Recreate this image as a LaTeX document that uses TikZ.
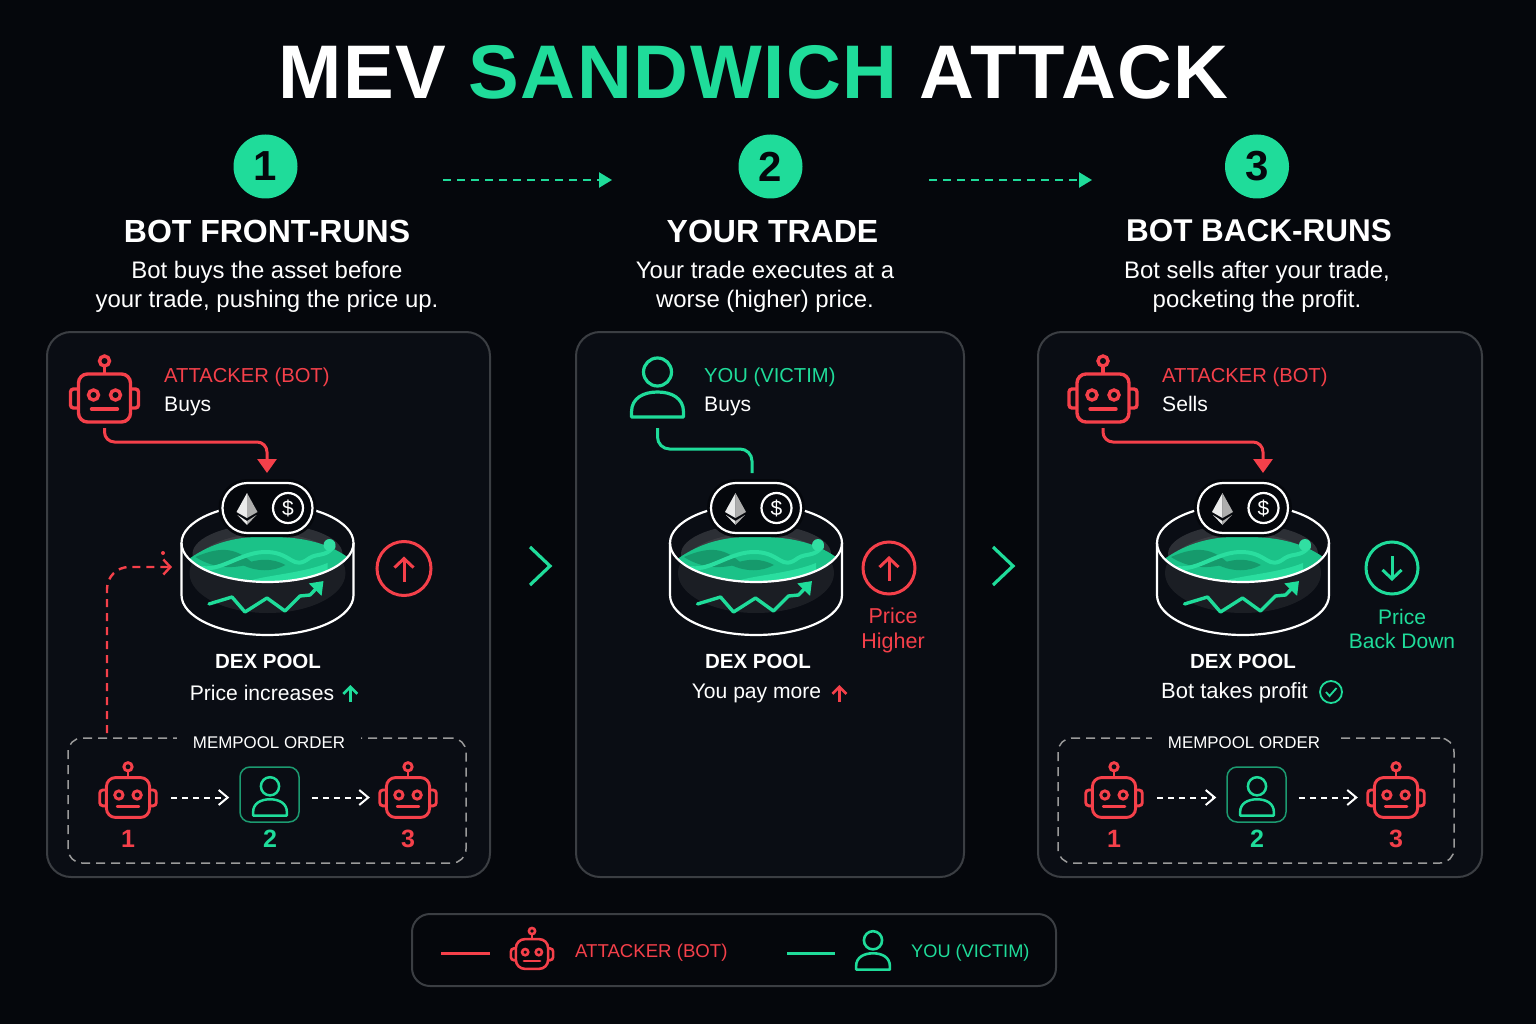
\documentclass[tikz,border=0pt]{standalone}
\usepackage{fontspec}
\setmainfont{Liberation Sans}
\usetikzlibrary{arrows.meta}
\definecolor{bgdark}{HTML}{05070C}
\definecolor{paneldark}{HTML}{0A0D14}
\definecolor{panelline}{HTML}{3B3E43}
\definecolor{botred}{HTML}{F5404A}
\definecolor{youteal}{HTML}{1FDC9A}
\definecolor{boxteal}{HTML}{1C9A70}
\definecolor{memline}{HTML}{9A9A9A}
\newcommand{\fsz}[1]{\fontsize{#1}{#1}\selectfont}
\tikzset{
  panelbox/.style={draw=panelline,fill=paneldark,line width=2pt,rounded corners=24pt},
  membox/.style={draw=memline,dash pattern=on 9pt off 6pt,line width=1.5pt,rounded corners=14pt,minimum width=398pt,minimum height=125pt},
  memlabel/.style={fill=paneldark,text=white,font=\fsz{16.9},inner xsep=16pt,inner ysep=2pt},
  youbox/.style={draw=boxteal,line width=1.5pt,rounded corners=10pt,minimum width=59pt,minimum height=55pt},
  numcircle/.style={circle,fill=youteal,text=bgdark,font=\fsz{42}\bfseries,minimum size=64pt,inner sep=0pt},
  headtext/.style={text=white,font=\fsz{32}\bfseries,inner sep=0pt},
  subtext/.style={text=white,font=\fsz{23.9},align=center,inner sep=0pt},
  poolhead/.style={text=white,font=\fsz{20.5}\bfseries,inner sep=0pt},
  pooltext/.style={text=white,font=\fsz{21.1},inner sep=0pt},
  redtext/.style={text=botred,font=\fsz{20.2},inner sep=0pt},
  youtext/.style={text=youteal,font=\fsz{20.2},inner sep=0pt},
  sidetext/.style={font=\fsz{21.5},align=center,inner sep=0pt},
  numred/.style={text=botred,font=\fsz{25}\bfseries,inner sep=0pt},
  numyou/.style={text=youteal,font=\fsz{25}\bfseries,inner sep=0pt},
  stepflow/.style={draw=youteal,line width=2.4pt,dash pattern=on 8pt off 6pt,-{Triangle[width=15pt,length=13pt]}},
  botpath/.style={draw=botred,line width=3pt,rounded corners=10pt,-{Triangle[width=19pt,length=14pt]}},
  youpath/.style={draw=youteal,line width=3pt,rounded corners=12pt},
  mempath/.style={draw=white,line width=2pt,dash pattern=on 6pt off 5pt,-{Straight Barb[length=9pt,width=15pt,line width=2pt]}},
  chevron/.style={draw=youteal,line width=3.2pt},
  ringred/.style={circle,draw=botred,line width=3pt,minimum size=54pt,inner sep=0pt},
  ringyou/.style={circle,draw=youteal,line width=3pt,minimum size=52pt,inner sep=0pt},
  tickarrow/.style={line width=3pt,-{Straight Barb[length=9pt,width=19pt,line width=3pt]}},
  smallarrow/.style={line width=2.6pt,-{Straight Barb[length=7pt,width=14pt,line width=2.6pt]}},
  boticon/.pic={
    \draw[rounded corners=9pt] (-26,-24) rectangle (26,24);
    \draw[rounded corners=3pt] (-26,-9) -- (-34,-9) -- (-34,10) -- (-26,10);
    \draw[rounded corners=3pt] (26,-9) -- (34,-9) -- (34,10) -- (26,10);
    \draw (0,-24) -- (0,-32);
    \draw (0,-37) circle (5);
    \draw (-11,-3) circle (5);
    \draw (11,-3) circle (5);
    \draw[line cap=round] (-13,11) -- (13,11);
    \coordinate (-south) at (0,30);
    \coordinate (-out) at (52,0);
    \coordinate (-in) at (-46,0);
  },
  youicon/.pic={
    \draw (0,-18) circle (14);
    \draw[line join=round] (-26,27) -- (-26,22) .. controls (-26,8) and (-14,2) .. (0,2)
      .. controls (14,2) and (26,8) .. (26,22) -- (26,27) -- cycle;
    \coordinate (-south) at (0,38);
  },
  poolicon/.pic={
    % dark body under the water
    \fill[fill=white,fill opacity=.07] (0,30) ellipse (78 and 40);
    % back rim and water
    \begin{scope}
      \clip (0,0) ellipse (85 and 38.5);
      \fill[fill=white,fill opacity=.14] (0,11) ellipse (75 and 30);
      \fill[fill=youteal!88!black] (-80,17) .. controls (-50,-5) and (-20,-7) .. (5,-6)
        .. controls (35,-6) and (60,0) .. (80,14) -- (80,45) -- (-80,45) -- cycle;
      \fill[fill=youteal!70!black] (-72,14) .. controls (-45,2) and (-30,6) .. (-15,20)
        .. controls (-35,27) and (-55,25) .. cycle;
      \fill[fill=youteal!70!black] (-25,22) .. controls (-10,15) and (5,15) .. (18,22)
        .. controls (5,29) and (-10,29) .. cycle;
      \fill[fill=youteal!95!white] (-30,42) .. controls (-10,32) and (30,32) .. (60,20)
        -- (60,45) -- (-30,45) -- cycle;
      \draw[draw=youteal!95!white,line width=4pt,line cap=round]
        (-65,25) .. controls (-45,28) and (-25,8) .. (0,9)
        .. controls (25,10) and (25,28) .. (42,15) .. controls (50,10) and (58,14) .. (66,4);
      \fill[fill=youteal!92!white] (62,2) circle (6);
    \end{scope}
    % cylinder outline
    \draw[draw=white,line width=2.2pt] (0,0) ellipse (86 and 39);
    \draw[draw=white,line width=2.2pt] (-86,0) -- (-86,52) arc (180:0:86 and 40) -- (86,0);
    % rising chart
    \draw[draw=youteal,line width=3.4pt,line join=round,line cap=round,-{Triangle[width=17pt,length=12pt]}]
      (-58.5,61) -- (-35.5,54) -- (-22.5,69) -- (-.5,55) -- (17.5,68) -- (32.5,53) -- (42.5,52) -- (56,38);
    % token pill
    \node[draw=bgdark,fill=bgdark,line width=8pt,rounded corners=25pt,minimum width=90pt,minimum height=50pt] at (0,-35) {};
    \node[draw=white,fill=bgdark,line width=2.2pt,rounded corners=25pt,minimum width=90pt,minimum height=50pt] (-pill) at (0,-35) {};
    \fill[fill=white!92!black] (-20.5,-50) -- (-31,-31) -- (-20.5,-25) -- cycle;
    \fill[fill=white!68!black] (-20.5,-50) -- (-10,-31) -- (-20.5,-25) -- cycle;
    \fill[fill=white!92!black] (-30,-28) -- (-20.5,-22) -- (-20.5,-18) -- cycle;
    \fill[fill=white!68!black] (-11,-28) -- (-20.5,-22) -- (-20.5,-18) -- cycle;
    \node[circle,draw=white,line width=2.2pt,minimum size=30pt,inner sep=0pt,text=white,font=\fsz{21}] (-coin) at (20.5,-35) {\$};
    \coordinate (-west) at (-95.5,24);
  }
}
\begin{document}
\begin{tikzpicture}[x=1pt,y=-1pt]
\fill[bgdark] (0,0) rectangle (1536,1024);
% Drawing title and step headers
\node[inner sep=0pt,text=white,font=\fsz{76}\bfseries\addfontfeatures{LetterSpace=2}] (title) at (753.5,72)
  {MEV \textcolor{youteal}{SANDWICH} ATTACK};
\node[numcircle] (numA) at (265.5,166.5) {1};
\node[numcircle] (numB) at (770.5,166.5) {2};
\node[numcircle] (numC) at (1257,166.5) {3};
\coordinate (flowAin) at (443,180);
\coordinate (flowAout) at (612,180);
\coordinate (flowBin) at (929,180);
\coordinate (flowBout) at (1092,180);
\draw[stepflow] (flowAin) -- (flowAout);
\draw[stepflow] (flowBin) -- (flowBout);
\node[headtext] (headA) at (267,231) {BOT FRONT-RUNS};
\node[headtext] (headB) at (772.5,231) {YOUR TRADE};
\node[headtext,font=\fsz{31.5}\bfseries] (headC) at (1259,231) {BOT BACK-RUNS};
\node[subtext] (subA) at (267,287) {Bot buys the asset before\\[5pt]your trade, pushing the price up.};
\node[subtext] (subB) at (765,287) {Your trade executes at a\\[5pt]worse (higher) price.};
\node[subtext] (subC) at (1257,287) {Bot sells after your trade,\\[5pt]pocketing the profit.};
% Done with headers; drawing panels
\node[panelbox,minimum width=443pt,minimum height=545pt] (panelA) at (268.5,604.5) {};
\node[panelbox,minimum width=388pt,minimum height=545pt] (panelB) at (770,604.5) {};
\node[panelbox,minimum width=444pt,minimum height=545pt] (panelC) at (1260,604.5) {};
% chevrons between panels
\coordinate (chevA) at (530,547);
\coordinate (chevB) at (993,547);
\draw[chevron] (chevA) -- ++(20,19) -- ++(-20,19);
\draw[chevron] (chevB) -- ++(20,19) -- ++(-20,19);
% Panel 1: attacker buys
\pic[color=botred,line width=3.4pt] (botA) at (104.5,398) {boticon};
\node[redtext,anchor=base west] (roleA) at (164,382) {ATTACKER (BOT)};
\node[pooltext,anchor=base west] (actA) at (164,411) {Buys};
\pic (poolA) at (267.5,543) {poolicon};
\coordinate (tipA) at (267,473);
\coordinate (railA) at (0,442);
\draw[botpath] (botA-south) |- (tipA |- railA) -- (tipA);
\node[ringred] (ringA) at (404,568.5) {};
\draw[botred,tickarrow] ([yshift=-13pt]ringA.center) -- ([yshift=12pt]ringA.center);
\node[poolhead] (dexA) at (268,661) {DEX POOL};
\node[pooltext] (priceA) at (262,693) {Price increases};
\draw[youteal,smallarrow] ([xshift=16pt,yshift=-9pt]priceA.east) -- ([xshift=16pt,yshift=8pt]priceA.east);
% Panel 2: victim buys
\pic[color=youteal,line width=3.2pt] (youB) at (657.5,390) {youicon};
\node[youtext,anchor=base west] (roleB) at (704,382) {YOU (VICTIM)};
\node[pooltext,anchor=base west] (actB) at (704,411) {Buys};
\pic (poolB) at (756,543) {poolicon};
\coordinate (tipB) at (752,473);
\coordinate (railB) at (0,449);
\draw[youpath] (youB-south) |- (tipB |- railB) -- (tipB);
\node[ringred,minimum size=52pt] (ringB) at (889,568) {};
\draw[botred,tickarrow] ([yshift=-13pt]ringB.center) -- ([yshift=12pt]ringB.center);
\node[poolhead] (dexB) at (758,661) {DEX POOL};
\node[pooltext] (priceB) at (756.5,693) {You pay more};
\draw[botred,smallarrow] ([xshift=18pt,yshift=-9pt]priceB.east) -- ([xshift=18pt,yshift=8pt]priceB.east);
\node[sidetext,text=botred] (sideB) at (893,630.5) {Price\\[3pt]Higher};
% Panel 3: attacker sells
\pic[color=botred,line width=3.4pt] (botC) at (1103,398) {boticon};
\node[redtext,anchor=base west] (roleC) at (1162,382) {ATTACKER (BOT)};
\node[pooltext,anchor=base west] (actC) at (1162,411) {Sells};
\pic (poolC) at (1243,543) {poolicon};
\coordinate (tipC) at (1263,473);
\coordinate (railC) at (0,442);
\draw[botpath] (botC-south) |- (tipC |- railC) -- (tipC);
\node[ringyou] (ringC) at (1392,568) {};
\draw[youteal,tickarrow] ([yshift=12pt]ringC.center) -- ([yshift=-13pt]ringC.center);
\node[poolhead] (dexC) at (1243,661) {DEX POOL};
\node[pooltext,font=\fsz{22}] (priceC) at (1234.5,693) {Bot takes profit};
\node[circle,draw=youteal,line width=1.8pt,minimum size=22pt,inner sep=0pt] (checkC) at (1331,692) {};
\draw[youteal,line width=1.8pt] (checkC.center) ++(-5,0) -- ++(3.5,4) -- ++(7,-8);
\node[sidetext,text=youteal,font=\fsz{21}] (sideC) at (1402,629) {Price\\[3pt]Back Down};
% Done with panels; drawing mempool boxes
\node[membox] (memA) at (267,800.5) {};
\node[memlabel] (memlabelA) at (269,743) {MEMPOOL ORDER};
\pic[color=botred,line width=2.9pt,scale=.83] (memAone) at (128,797.5) {boticon};
\node[youbox] (memAtwo) at (269.5,794.5) {};
\pic[color=youteal,line width=2.5pt,scale=.65] (memAyou) at (270,798) {youicon};
\pic[color=botred,line width=2.9pt,scale=.83] (memAthree) at (408,797.5) {boticon};
\draw[mempath] (memAone-out) -- ([xshift=-10pt]memAtwo.west |- memAone-out);
\draw[mempath] ([xshift=12pt]memAtwo.east |- memAone-out) -- (memAthree-in);
\node[numred] (numAone) at (128,838.5) {1};
\node[numyou] (numAtwo) at (270,838.5) {2};
\node[numred] (numAthree) at (408,838.5) {3};
% dashed red feed up to the pool
\coordinate (feedA) at (107,733);
\draw[draw=botred,line width=2.4pt,dash pattern=on 8pt off 6pt,rounded corners=22pt,-{Straight Barb[length=7pt,width=15pt,line width=2.4pt]}]
  (feedA) |- (poolA-west);
\fill[botred] (163,553) circle (2);
% Panel 3 mempool
\node[membox,minimum width=396pt] (memC) at (1256,800.5) {};
\node[memlabel] (memlabelC) at (1244,743) {MEMPOOL ORDER};
\pic[color=botred,line width=2.9pt,scale=.83] (memCone) at (1114,797.5) {boticon};
\node[youbox] (memCtwo) at (1256.5,794.5) {};
\pic[color=youteal,line width=2.5pt,scale=.65] (memCyou) at (1257,798) {youicon};
\pic[color=botred,line width=2.9pt,scale=.83] (memCthree) at (1396,797.5) {boticon};
\draw[mempath] (memCone-out) -- ([xshift=-10pt]memCtwo.west |- memCone-out);
\draw[mempath] ([xshift=12pt]memCtwo.east |- memCone-out) -- (memCthree-in);
\node[numred] (numCone) at (1114,838.5) {1};
\node[numyou] (numCtwo) at (1257,838.5) {2};
\node[numred] (numCthree) at (1396,838.5) {3};
% Done with mempool; drawing legend
\node[draw=panelline,fill=bgdark,line width=2pt,rounded corners=18pt,minimum width=644pt,minimum height=72pt] (legend) at (734,950) {};
\coordinate (keyredin) at (441,953);
\coordinate (keyredout) at (490,953);
\coordinate (keyyouin) at (787,953);
\coordinate (keyyouout) at (835,953);
\draw[botred,line width=3pt] (keyredin) -- (keyredout);
\draw[youteal,line width=3pt] (keyyouin) -- (keyyouout);
\pic[color=botred,line width=2.6pt,scale=.62] (keybot) at (532,954) {boticon};
\pic[color=youteal,line width=2.6pt,scale=.65] (keyyou) at (873,952) {youicon};
\node[redtext,anchor=base west,font=\fsz{18.6}] (keybottext) at (575,957) {ATTACKER (BOT)};
\node[youtext,anchor=base west,font=\fsz{18.2}] (keyyoutext) at (911,957) {YOU (VICTIM)};
% Done with legend
\end{tikzpicture}
\end{document}
